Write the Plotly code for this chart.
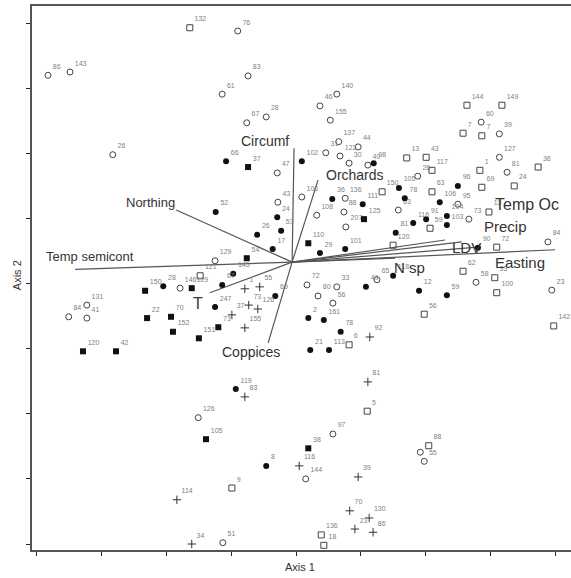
import plotly.graph_objects as go

# ---- Site scores (Axis 1, Axis 2) by group ----
oc_x = [0.17, 0.51, 1.17, 3.10, 3.26, 2.86, 3.54, 3.24, 4.63, 4.37, 4.53, 4.66, 4.46, 4.68, 4.82, 4.96, 5.11,
        3.71, 4.09, 3.72, 4.32, 4.76, 4.74, 4.77, 5.58, 5.88, 6.86, 7.14, 7.14, 7.26, 6.50, 6.67, 7.89, 6.78,
        7.95, 2.75, 2.21, 0.49, 0.77, 0.77, 4.17, 4.63, 4.34, 4.57, 5.25, 2.49, 4.57, 4.15, 2.87, 5.98, 5.92]
oc_y = [7.20, 7.25, 5.98, 7.88, 7.19, 6.91, 6.56, 6.47, 6.91, 6.73, 6.51, 6.18, 6.01, 5.96, 5.85, 6.10, 5.82,
        5.70, 5.33, 5.25, 5.05, 5.31, 5.10, 4.87, 5.13, 5.65, 6.48, 6.30, 5.94, 5.71, 5.22, 4.99, 4.64, 4.02,
        3.90, 4.35, 3.93, 3.49, 3.47, 3.67, 3.98, 3.95, 3.81, 3.70, 4.06, 1.94, 1.69, 1.00, 0.02, 1.27, 1.41]
oc_lab = ["86", "143", "26", "76", "83", "61", "28", "67", "140", "46", "155", "137", "31", "122", "30", "44", "40",
          "47", "106", "43", "108", "136", "88", "207", "63", "26", "60", "39", "127", "81", "95", "73", "84", "58",
          "23", "129", "146", "84", "41", "131", "72", "33", "80", "56", "65", "126", "97", "144", "51", "55", ""]

fc_x = [2.92, 4.09, 5.20, 4.56, 5.03, 4.37, 4.76, 5.59, 5.68, 5.54, 5.81, 6.50, 6.22, 6.33, 6.33, 6.01, 6.81,
        5.50, 5.90, 6.33, 2.76, 3.71, 3.77, 3.40, 3.64, 3.03, 2.86, 3.68, 2.75, 1.95, 4.19, 4.43, 4.69, 4.22,
        4.51, 5.08, 3.07, 3.54]
fc_y = [5.88, 5.88, 5.85, 5.30, 5.22, 4.47, 4.53, 5.47, 5.31, 4.78, 4.93, 5.50, 5.25, 5.04, 4.90, 4.99, 4.55,
        4.12, 3.89, 3.82, 5.10, 5.02, 4.81, 4.75, 4.53, 4.15, 3.98, 3.81, 3.64, 3.96, 3.47, 3.44, 3.26, 2.98,
        2.98, 3.95, 2.38, 1.20]
fc_lab = ["66", "102", "98", "36", "111", "29", "101", "105", "78", "81", "116", "96", "106", "104", "103", "91", "90",
          "118", "12", "59", "52", "24", "53", "26", "17", "145", "67", "69", "247", "28", "2", "161", "78", "21",
          "113", "49", "119", "8"]

os_x = [2.36, 5.33, 5.50, 5.71, 6.01, 6.10, 6.64, 7.18, 6.58, 6.87, 7.74, 6.84, 7.37, 6.87, 6.10, 6.98, 6.07,
        7.10, 6.58, 7.07, 7.10, 5.98, 7.98, 2.52, 4.82, 5.10, 3.01, 4.39, 4.43, 6.05]
os_y = [7.93, 5.41, 4.59, 5.93, 5.94, 5.74, 6.74, 6.74, 6.31, 6.27, 5.79, 5.74, 5.50, 5.48, 5.41, 5.10, 4.85,
        4.56, 4.19, 4.09, 3.86, 3.53, 3.35, 4.12, 3.06, 2.04, 0.86, 0.14, -0.02, 1.51]
os_lab = ["132", "150", "120", "13", "43", "117", "144", "149", "7", "7", "36", "1", "24", "69", "63", "13", "59",
          "72", "62", "33", "100", "56", "142", "121", "6", "5", "9", "136", "18", "88"]

fs_x = [3.26, 4.19, 5.05, 3.24, 2.39, 1.67, 1.70, 2.07, 2.10, 2.50, 2.80, 0.71, 1.22, 2.61, 4.19]
fs_y = [5.79, 4.62, 4.99, 4.39, 3.93, 3.89, 3.47, 3.49, 3.26, 3.16, 3.33, 2.96, 2.96, 1.61, 1.47]
fs_lab = ["37", "110", "125", "54", "129", "150", "22", "70", "152", "151", "73", "120", "42", "105", "38"]

pl_x = [3.21, 3.44, 3.01, 3.27, 3.41, 3.21, 5.14, 5.11, 3.21, 4.05, 4.96, 4.83, 5.13, 4.91, 5.19, 2.16, 2.39]
pl_y = [3.92, 3.95, 3.52, 3.67, 3.61, 3.32, 3.18, 2.49, 2.26, 1.20, 1.03, 0.51, 0.40, 0.23, 0.18, 0.68, 0.00]
pl_lab = ["1", "55", "37", "73", "126", "155", "92", "81", "83", "116", "39", "70", "130", "23", "86", "114", "34"]

# ---- Environmental vectors ----
origin = (3.94, 4.33)
vec_names = ["Circumf", "Orchards", "Northing", "Temp semicont", "T", "Coppices",
             "N sp", "LDV", "Precip", "Temp Oc", "Easting"]
vec_x = [3.97, 4.34, 2.15, 0.59, 2.67, 3.57, 5.53, 6.81, 6.56, 6.30, 8.00]
vec_y = [6.08, 5.59, 5.13, 4.22, 3.86, 3.09, 4.39, 4.56, 4.64, 4.67, 4.52]
lab_x = [3.52, 4.91, 1.75, 0.82, 2.49, 3.31, 5.76, 6.63, 7.23, 7.57, 7.46]
lab_y = [6.19, 5.67, 5.25, 4.42, 3.70, 2.95, 4.24, 4.56, 4.88, 5.21, 4.32]
lab_size = [14, 14, 13, 13, 16, 14, 15, 15, 15, 16, 15]

tick_vals = [0, 1, 2, 3, 4, 5, 6, 7, 8]

fig = go.Figure()

for vx, vy in zip(vec_x, vec_y):
    fig.add_trace(go.Scatter(x=[origin[0], vx], y=[origin[1], vy], mode="lines",
                             line=dict(color="#555555", width=1.2), hoverinfo="skip", showlegend=False))

tfont = dict(family="Liberation Sans, Arial, sans-serif", size=7, color="#808080")
groups = [
    (oc_x, oc_y, oc_lab, dict(symbol="circle-open", size=6, color="#444444", line=dict(width=1))),
    (fc_x, fc_y, fc_lab, dict(symbol="circle", size=6, color="#111111")),
    (os_x, os_y, os_lab, dict(symbol="square-open", size=6, color="#444444", line=dict(width=1))),
    (fs_x, fs_y, fs_lab, dict(symbol="square", size=6, color="#111111")),
    (pl_x, pl_y, pl_lab, dict(symbol="cross-thin-open", size=6, color="#333333", line=dict(width=1))),
]
for gx, gy, gl, mk in groups:
    fig.add_trace(go.Scatter(x=gx, y=gy, text=gl, mode="markers+text", textposition="top right",
                             textfont=tfont, marker=mk, cliponaxis=False, showlegend=False))

for name, lx, ly, sz in zip(vec_names, lab_x, lab_y, lab_size):
    fig.add_annotation(x=lx, y=ly, text=name, showarrow=False,
                       font=dict(family="Liberation Sans, Arial, sans-serif", size=sz, color="#333333"))

fig.add_annotation(xref="paper", yref="paper", x=0.497, y=-0.031, text="Axis 1", showarrow=False,
                   xanchor="center", yanchor="middle",
                   font=dict(family="Liberation Sans, Arial, sans-serif", size=11, color="#333333"))
fig.add_annotation(xref="paper", yref="paper", x=-0.028, y=0.505, text="Axis 2", showarrow=False,
                   textangle=-90, xanchor="center", yanchor="middle",
                   font=dict(family="Liberation Sans, Arial, sans-serif", size=11, color="#333333"))

fig.update_layout(
    width=571, height=578,
    margin=dict(l=32, r=0, t=6, b=28, autoexpand=False),
    paper_bgcolor="white", plot_bgcolor="white",
    hovermode=False,
    xaxis=dict(range=[-0.077, 8.247], tickvals=tick_vals, showticklabels=False, ticks="outside",
               ticklen=4, tickcolor="#222222", showgrid=False, zeroline=False,
               showline=True, linecolor="#555555", linewidth=2, mirror=True),
    yaxis=dict(range=[-0.092, 8.264], tickvals=tick_vals, showticklabels=False, ticks="outside",
               ticklen=4, tickcolor="#222222", showgrid=False, zeroline=False,
               showline=True, linecolor="#555555", linewidth=2),
)

fig.write_html("out.html", config={"displayModeBar": False},
               post_script="document.body.style.margin='0px';document.body.style.overflow='hidden';")
